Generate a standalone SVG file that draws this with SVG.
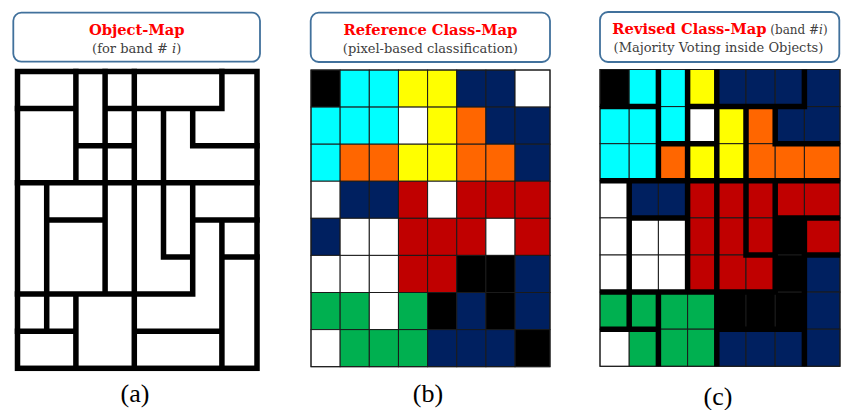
<svg xmlns="http://www.w3.org/2000/svg" width="843" height="410" viewBox="0 0 843 410">
<style>
.hdr{fill:#fff;stroke:#41719c;stroke-width:1.8}
.ttl{font-family:"DejaVu Serif","Liberation Serif",serif;font-weight:bold;font-size:14.7px;fill:#ff0000;text-anchor:middle}
.sub{font-family:"DejaVu Serif","Liberation Serif",serif;font-size:13px;fill:#404040;text-anchor:middle}
.lbl{font-family:"Liberation Serif","Times New Roman",serif;font-size:26px;fill:#000;text-anchor:middle}
.obj{fill:none;stroke:#000;stroke-width:5.5;stroke-linecap:square;stroke-linejoin:miter}
.cell rect{stroke:#1a1a1a;stroke-width:1}
.k{fill:#000}.c{fill:#00ffff}.y{fill:#ffff00}.n{fill:#002060}.o{fill:#ff6600}.r{fill:#c00000}.g{fill:#00b050}.w{fill:#fff}
</style>
<defs>
<clipPath id="clipC"><rect x="600" y="69.5" width="240" height="296.8"/></clipPath>
</defs>
<rect width="843" height="410" fill="#fff"/>

<!-- Panel (a) -->
<g id="panel-a">
<g id="header-a">
<rect class="hdr" x="13.3" y="12.7" width="246.7" height="49" rx="8"/>
<text class="ttl" x="136.7" y="35">Object-Map</text>
<text class="sub" x="136.7" y="52.5">(for band # <tspan font-style="italic">i</tspan>)</text>
</g>
<g id="objectmap-a">
<rect x="17.5" y="71.5" width="239.5" height="296.8" fill="#fff" class="obj"/>
<path class="obj" d="M46.7 182.8V331.2 M75.9 71.5V182.8 M75.9 294.1V368.3 M105.1 71.5V294.1 M134.3 71.5V368.3 M163.5 108.6V257 M192.7 108.6V145.7 M192.7 182.8V294.1 M221.9 71.5V108.6 M221.9 219.9V368.3 M17.5 108.6H75.9 M105.1 108.6H221.9 M75.9 145.7H134.3 M192.7 145.7H257 M17.5 182.8H257 M46.7 219.9H105.1 M192.7 219.9H257 M163.5 257H192.7 M221.9 257H257 M17.5 294.1H192.7 M17.5 331.2H75.9 M134.3 331.2H221.9"/>
</g>
<text class="lbl" x="135" y="402">(a)</text>
</g>

<!-- Panel (b) -->
<g id="panel-b">
<g id="header-b">
<rect class="hdr" x="310.7" y="12.7" width="239.3" height="49.3" rx="8"/>
<text class="ttl" x="430.4" y="34.5">Reference Class-Map</text>
<text class="sub" x="430.4" y="52.5">(pixel-based classification)</text>
</g>
<g id="classmap-b" class="cell">
<g transform="translate(0,70)">
<rect class="k" x="311" y="0" width="29.15" height="37.1"/><rect class="c" x="340.15" y="0" width="29.15" height="37.1"/><rect class="c" x="369.3" y="0" width="29.15" height="37.1"/><rect class="y" x="398.45" y="0" width="29.15" height="37.1"/><rect class="y" x="427.6" y="0" width="29.15" height="37.1"/><rect class="n" x="456.75" y="0" width="29.15" height="37.1"/><rect class="n" x="485.9" y="0" width="29.15" height="37.1"/><rect class="w" x="515.05" y="0" width="34.95" height="37.1"/>
</g>
<g transform="translate(0,107.1)">
<rect class="c" x="311" y="0" width="29.15" height="37.1"/><rect class="c" x="340.15" y="0" width="29.15" height="37.1"/><rect class="c" x="369.3" y="0" width="29.15" height="37.1"/><rect class="w" x="398.45" y="0" width="29.15" height="37.1"/><rect class="y" x="427.6" y="0" width="29.15" height="37.1"/><rect class="o" x="456.75" y="0" width="29.15" height="37.1"/><rect class="n" x="485.9" y="0" width="29.15" height="37.1"/><rect class="n" x="515.05" y="0" width="34.95" height="37.1"/>
</g>
<g transform="translate(0,144.2)">
<rect class="c" x="311" y="0" width="29.15" height="37.1"/><rect class="o" x="340.15" y="0" width="29.15" height="37.1"/><rect class="o" x="369.3" y="0" width="29.15" height="37.1"/><rect class="y" x="398.45" y="0" width="29.15" height="37.1"/><rect class="y" x="427.6" y="0" width="29.15" height="37.1"/><rect class="o" x="456.75" y="0" width="29.15" height="37.1"/><rect class="o" x="485.9" y="0" width="29.15" height="37.1"/><rect class="n" x="515.05" y="0" width="34.95" height="37.1"/>
</g>
<g transform="translate(0,181.2)">
<rect class="w" x="311" y="0" width="29.15" height="37.1"/><rect class="n" x="340.15" y="0" width="29.15" height="37.1"/><rect class="n" x="369.3" y="0" width="29.15" height="37.1"/><rect class="r" x="398.45" y="0" width="29.15" height="37.1"/><rect class="w" x="427.6" y="0" width="29.15" height="37.1"/><rect class="r" x="456.75" y="0" width="29.15" height="37.1"/><rect class="r" x="485.9" y="0" width="29.15" height="37.1"/><rect class="r" x="515.05" y="0" width="34.95" height="37.1"/>
</g>
<g transform="translate(0,218.3)">
<rect class="n" x="311" y="0" width="29.15" height="37.1"/><rect class="w" x="340.15" y="0" width="29.15" height="37.1"/><rect class="w" x="369.3" y="0" width="29.15" height="37.1"/><rect class="r" x="398.45" y="0" width="29.15" height="37.1"/><rect class="r" x="427.6" y="0" width="29.15" height="37.1"/><rect class="r" x="456.75" y="0" width="29.15" height="37.1"/><rect class="w" x="485.9" y="0" width="29.15" height="37.1"/><rect class="r" x="515.05" y="0" width="34.95" height="37.1"/>
</g>
<g transform="translate(0,255.4)">
<rect class="w" x="311" y="0" width="29.15" height="37.1"/><rect class="w" x="340.15" y="0" width="29.15" height="37.1"/><rect class="w" x="369.3" y="0" width="29.15" height="37.1"/><rect class="r" x="398.45" y="0" width="29.15" height="37.1"/><rect class="r" x="427.6" y="0" width="29.15" height="37.1"/><rect class="k" x="456.75" y="0" width="29.15" height="37.1"/><rect class="k" x="485.9" y="0" width="29.15" height="37.1"/><rect class="n" x="515.05" y="0" width="34.95" height="37.1"/>
</g>
<g transform="translate(0,292.5)">
<rect class="g" x="311" y="0" width="29.15" height="37.1"/><rect class="g" x="340.15" y="0" width="29.15" height="37.1"/><rect class="w" x="369.3" y="0" width="29.15" height="37.1"/><rect class="g" x="398.45" y="0" width="29.15" height="37.1"/><rect class="k" x="427.6" y="0" width="29.15" height="37.1"/><rect class="n" x="456.75" y="0" width="29.15" height="37.1"/><rect class="k" x="485.9" y="0" width="29.15" height="37.1"/><rect class="n" x="515.05" y="0" width="34.95" height="37.1"/>
</g>
<g transform="translate(0,329.6)">
<rect class="w" x="311" y="0" width="29.15" height="37.1"/><rect class="g" x="340.15" y="0" width="29.15" height="37.1"/><rect class="g" x="369.3" y="0" width="29.15" height="37.1"/><rect class="g" x="398.45" y="0" width="29.15" height="37.1"/><rect class="n" x="427.6" y="0" width="29.15" height="37.1"/><rect class="n" x="456.75" y="0" width="29.15" height="37.1"/><rect class="n" x="485.9" y="0" width="29.15" height="37.1"/><rect class="k" x="515.05" y="0" width="34.95" height="37.1"/>
</g>
<rect x="311" y="70" width="239" height="296.7" fill="none" stroke="#7f7f7f" stroke-width="1.5"/>
</g>
<text class="lbl" x="428" y="402">(b)</text>
</g>

<!-- Panel (c) -->
<g id="panel-c">
<g id="header-c">
<rect class="hdr" x="600" y="12" width="239.3" height="50" rx="8"/>
<text class="ttl" x="720" y="33.5">Revised Class-Map<tspan font-weight="normal" font-size="12px" fill="#404040"> (band #<tspan font-style="italic">i</tspan>)</tspan></text>
<text class="sub" x="718.5" y="51.7">(Majority Voting inside Objects)</text>
</g>
<g id="classmap-c" class="cell">
<g transform="translate(0,69.5)">
<rect class="k" x="600" y="0" width="29.2" height="37.1"/><rect class="c" x="629.2" y="0" width="29.2" height="37.1"/><rect class="c" x="658.4" y="0" width="29.2" height="37.1"/><rect class="y" x="687.6" y="0" width="29.2" height="37.1"/><rect class="n" x="716.8" y="0" width="29.2" height="37.1"/><rect class="n" x="746" y="0" width="29.2" height="37.1"/><rect class="n" x="775.2" y="0" width="29.2" height="37.1"/><rect class="n" x="804.4" y="0" width="35.6" height="37.1"/>
</g>
<g transform="translate(0,106.6)">
<rect class="c" x="600" y="0" width="29.2" height="37.1"/><rect class="c" x="629.2" y="0" width="29.2" height="37.1"/><rect class="c" x="658.4" y="0" width="29.2" height="37.1"/><rect class="w" x="687.6" y="0" width="29.2" height="37.1"/><rect class="y" x="716.8" y="0" width="29.2" height="37.1"/><rect class="o" x="746" y="0" width="29.2" height="37.1"/><rect class="n" x="775.2" y="0" width="29.2" height="37.1"/><rect class="n" x="804.4" y="0" width="35.6" height="37.1"/>
</g>
<g transform="translate(0,143.7)">
<rect class="c" x="600" y="0" width="29.2" height="37.1"/><rect class="c" x="629.2" y="0" width="29.2" height="37.1"/><rect class="o" x="658.4" y="0" width="29.2" height="37.1"/><rect class="y" x="687.6" y="0" width="29.2" height="37.1"/><rect class="y" x="716.8" y="0" width="29.2" height="37.1"/><rect class="o" x="746" y="0" width="29.2" height="37.1"/><rect class="o" x="775.2" y="0" width="29.2" height="37.1"/><rect class="o" x="804.4" y="0" width="35.6" height="37.1"/>
</g>
<g transform="translate(0,180.8)">
<rect class="w" x="600" y="0" width="29.2" height="37.1"/><rect class="n" x="629.2" y="0" width="29.2" height="37.1"/><rect class="n" x="658.4" y="0" width="29.2" height="37.1"/><rect class="r" x="687.6" y="0" width="29.2" height="37.1"/><rect class="r" x="716.8" y="0" width="29.2" height="37.1"/><rect class="r" x="746" y="0" width="29.2" height="37.1"/><rect class="r" x="775.2" y="0" width="29.2" height="37.1"/><rect class="r" x="804.4" y="0" width="35.6" height="37.1"/>
</g>
<g transform="translate(0,217.9)">
<rect class="w" x="600" y="0" width="29.2" height="37.1"/><rect class="w" x="629.2" y="0" width="29.2" height="37.1"/><rect class="w" x="658.4" y="0" width="29.2" height="37.1"/><rect class="r" x="687.6" y="0" width="29.2" height="37.1"/><rect class="r" x="716.8" y="0" width="29.2" height="37.1"/><rect class="r" x="746" y="0" width="29.2" height="37.1"/><rect class="k" x="775.2" y="0" width="29.2" height="37.1"/><rect class="r" x="804.4" y="0" width="35.6" height="37.1"/>
</g>
<g transform="translate(0,255)">
<rect class="w" x="600" y="0" width="29.2" height="37.1"/><rect class="w" x="629.2" y="0" width="29.2" height="37.1"/><rect class="w" x="658.4" y="0" width="29.2" height="37.1"/><rect class="r" x="687.6" y="0" width="29.2" height="37.1"/><rect class="r" x="716.8" y="0" width="29.2" height="37.1"/><rect class="r" x="746" y="0" width="29.2" height="37.1"/><rect class="k" x="775.2" y="0" width="29.2" height="37.1"/><rect class="n" x="804.4" y="0" width="35.6" height="37.1"/>
</g>
<g transform="translate(0,292.1)">
<rect class="g" x="600" y="0" width="29.2" height="37.1"/><rect class="g" x="629.2" y="0" width="29.2" height="37.1"/><rect class="g" x="658.4" y="0" width="29.2" height="37.1"/><rect class="g" x="687.6" y="0" width="29.2" height="37.1"/><rect class="k" x="716.8" y="0" width="29.2" height="37.1"/><rect class="k" x="746" y="0" width="29.2" height="37.1"/><rect class="k" x="775.2" y="0" width="29.2" height="37.1"/><rect class="n" x="804.4" y="0" width="35.6" height="37.1"/>
</g>
<g transform="translate(0,329.2)">
<rect class="w" x="600" y="0" width="29.2" height="37.1"/><rect class="g" x="629.2" y="0" width="29.2" height="37.1"/><rect class="g" x="658.4" y="0" width="29.2" height="37.1"/><rect class="g" x="687.6" y="0" width="29.2" height="37.1"/><rect class="n" x="716.8" y="0" width="29.2" height="37.1"/><rect class="n" x="746" y="0" width="29.2" height="37.1"/><rect class="n" x="775.2" y="0" width="29.2" height="37.1"/><rect class="n" x="804.4" y="0" width="35.6" height="37.1"/>
</g>
<rect x="600" y="69.5" width="240" height="296.8" fill="none" stroke="#6f6f6f" stroke-width="1.5"/>
</g>
<g id="objects-c" clip-path="url(#clipC)">
<path class="obj" stroke-width="5" d="M629.2 180.8V329.2 M658.4 69.5V180.8 M658.4 292.1V366.3 M687.6 69.5V292.1 M716.8 69.5V366.3 M746 106.6V255 M775.2 106.6V143.7 M775.2 180.8V292.1 M804.4 69.5V106.6 M804.4 217.9V366.3 M600 106.6H658.4 M687.6 106.6H804.4 M658.4 143.7H716.8 M775.2 143.7H840 M600 180.8H840 M629.2 217.9H687.6 M775.2 217.9H840 M746 255H775.2 M804.4 255H840 M600 292.1H775.2 M600 329.2H658.4 M716.8 329.2H804.4"/>
</g>
<text class="lbl" x="718" y="405">(c)</text>
</g>
</svg>
